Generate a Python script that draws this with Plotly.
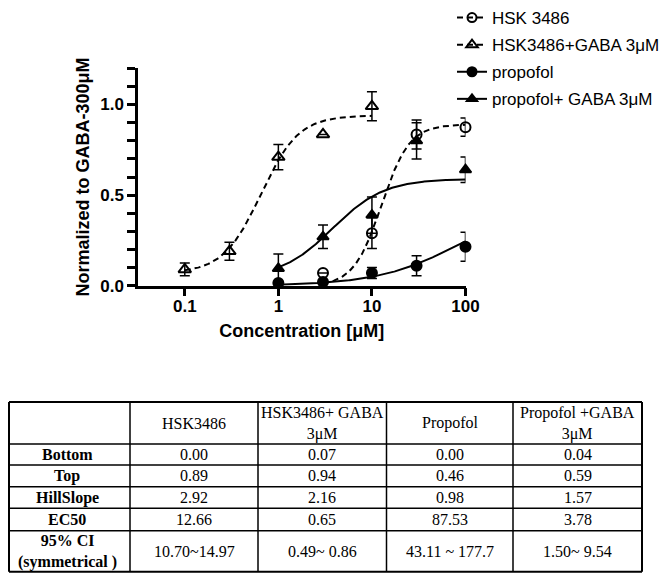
import numpy as np
import plotly.graph_objects as go

# ---------------- data ----------------
hsk_x = [3, 10, 30, 100]
hsk_y = [0.07, 0.29, 0.835, 0.875]
hsk_err = [0.0, 0.085, 0.08, 0.05]

hskg_x = [0.1, 0.3, 1, 3, 10]
hskg_y = [0.09, 0.19, 0.71, 0.835, 0.99]
hskg_err = [0.035, 0.05, 0.07, 0.0, 0.08]

prop_x = [1, 3, 10, 30, 100]
prop_y = [0.015, 0.02, 0.07, 0.11, 0.215]
prop_err = [0.0, 0.0, 0.03, 0.055, 0.08]

propg_x = [1, 3, 10, 30, 100]
propg_y = [0.095, 0.27, 0.39, 0.80, 0.64]
propg_err = [0.08, 0.065, 0.1, 0.1, 0.07]

series_names = ["HSK 3486", "HSK3486+GABA 3μM", "propofol", "propofol+ GABA 3μM"]

x_tickvals = [0.1, 1, 10, 100]
x_ticktext = ["0.1", "1", "10", "100"]
y_tickvals = [0.0, 0.5, 1.0]
y_ticktext = ["0.0", "0.5", "1.0"]

# fit parameters (table)
table_cols = ["HSK3486", "HSK3486+ GABA<br>3μM", "Propofol", "Propofol +GABA<br>3μM"]
row_labels = ["Bottom", "Top", "HillSlope", "EC50", "95% CI<br>(symmetrical )"]
fit_bottom = [0.00, 0.07, 0.00, 0.04]
fit_top = [0.89, 0.94, 0.46, 0.59]
fit_hill = [2.92, 2.16, 0.98, 1.57]
fit_ec50 = [12.66, 0.65, 87.53, 3.78]
fit_ci = ["10.70~14.97", "0.49~ 0.86", "43.11 ~ 177.7", "1.50~ 9.54"]

# ---------------- figure geometry ----------------
OFF = 8                      # page body margin
W, H = 671 - OFF, 575 - OFF  # figure size so the page fills the window


def px(x):
    return (x - OFF) / W


def py(y):
    return 1 - (y - OFF) / H


fig = go.Figure()


def hill(x, b, t, h, ec):
    x = np.asarray(x, dtype=float)
    return b + (t - b) / (1 + 10 ** ((np.log10(ec) - np.log10(x)) * h))


series = [
    (hsk_x, hsk_y, hsk_err, "circle-open", 10, "6px,4px"),
    (hskg_x, hskg_y, hskg_err, "triangle-up-open", 11, "6px,4px"),
    (prop_x, prop_y, prop_err, "circle", 10, "solid"),
    (propg_x, propg_y, propg_err, "triangle-up", 10, "solid"),
]

for i, (xs, ys, es, sym, sz, dash) in enumerate(series):
    cx = np.logspace(np.log10(min(xs)), np.log10(max(xs)), 200)
    cy = hill(cx, fit_bottom[i], fit_top[i], fit_hill[i], fit_ec50[i])
    fig.add_trace(go.Scatter(x=cx, y=cy, mode="lines",
                             line=dict(color="black", width=2, dash=dash),
                             showlegend=False, cliponaxis=False, hoverinfo="skip"))
    fig.add_trace(go.Scatter(x=xs, y=ys, mode="markers",
                             marker=dict(symbol=sym, size=sz, color="black",
                                         line=dict(color="black", width=2)),
                             error_y=dict(type="data", array=es, visible=True,
                                          color="black", thickness=1.5, width=5),
                             showlegend=False, cliponaxis=False))
    # legend entry
    fig.add_trace(go.Scatter(x=[None], y=[None], mode="lines+markers", name=series_names[i],
                             legendgroup="g%d" % i,
                             marker=dict(symbol=sym, size=sz - 1, color="black",
                                         line=dict(color="black", width=2)),
                             line=dict(color="black", width=2, dash=dash)))

# ---------------- table (lines + text) ----------------
col_edges = [9, 130, 258, 386.5, 513, 642]
row_edges = [402, 444, 465, 486.7, 508.3, 530.7, 571.7]

shapes = []
for j, xe in enumerate(col_edges):
    outer = j in (0, len(col_edges) - 1)
    shapes.append(dict(type="line", xref="paper", yref="paper",
                       x0=px(xe), x1=px(xe), y0=py(row_edges[0]), y1=py(row_edges[-1]),
                       line=dict(color="black", width=2 if outer else 1.5)))
for k, ye in enumerate(row_edges):
    outer = k in (0, len(row_edges) - 1)
    shapes.append(dict(type="line", xref="paper", yref="paper",
                       x0=px(col_edges[0]), x1=px(col_edges[-1]), y0=py(ye), y1=py(ye),
                       line=dict(color="black", width=2 if outer else 1.5)))

cell_cols = [row_labels]
for i in range(4):
    cell_cols.append([f"{fit_bottom[i]:.2f}", f"{fit_top[i]:.2f}", f"{fit_hill[i]:.2f}",
                      f"{fit_ec50[i]:.2f}", fit_ci[i]])
header = [""] + table_cols
col_centers = [67, 194, 322, 450, 577.5]

tfont = dict(family="Liberation Serif", size=16, color="black")
annotations = []
for c in range(5):
    cxm = col_centers[c]
    if header[c]:
        annotations.append(dict(text=header[c], xref="paper", yref="paper",
                                x=px(cxm), y=py((row_edges[0] + row_edges[1]) / 2),
                                xanchor="center", yanchor="middle", showarrow=False,
                                font=tfont, align="center"))
    for r in range(5):
        cym = (row_edges[r + 1] + row_edges[r + 2]) / 2
        f = dict(tfont)
        if c == 0:
            f["weight"] = "bold"
        annotations.append(dict(text=cell_cols[c][r], xref="paper", yref="paper",
                                x=px(cxm), y=py(cym), xanchor="center", yanchor="middle",
                                showarrow=False, font=f, align="center"))

axis_font = dict(family="Liberation Sans", size=18, color="black", weight="bold")
tick_font = dict(family="Liberation Sans", size=17, color="black", weight="bold")

fig.update_layout(
    width=W, height=H, autosize=False,
    margin=dict(l=0, r=0, t=0, b=0, autoexpand=False),
    paper_bgcolor="white", plot_bgcolor="white",
    showlegend=True,
    shapes=shapes, annotations=annotations,
    legend=dict(x=px(452), y=py(0), xanchor="left", yanchor="top",
                font=dict(family="Liberation Sans", size=17, color="black"),
                bgcolor="rgba(0,0,0,0)", itemwidth=30, tracegroupgap=2),
    xaxis=dict(type="log", domain=[px(138), px(465.5)], range=[-1.5, 2.0],
               tickvals=x_tickvals, ticktext=x_ticktext, ticks="outside", ticklen=8,
               tickwidth=2.5, tickcolor="black", showline=True, linecolor="black",
               linewidth=2.5, showgrid=False, zeroline=False, tickfont=tick_font,
               ticklabelstandoff=-5, automargin=False,
               title=dict(text="Concentration [μM]", font=axis_font, standoff=10)),
    yaxis=dict(domain=[py(285.7), py(68.3)], range=[0, 1.2],
               tickvals=y_tickvals, ticktext=y_ticktext, ticks="outside", ticklen=8,
               tickwidth=2.5, tickcolor="black", showline=True, linecolor="black",
               linewidth=2.5, showgrid=False, zeroline=False, tickfont=tick_font,
               automargin=False,
               minor=dict(dtick=0.1, ticks="outside", ticklen=8, tickwidth=2.5,
                          tickcolor="black", showgrid=False),
               title=dict(text="Normalized to GABA-300μM", font=axis_font, standoff=6)),
)

fig.write_html("out.html")
